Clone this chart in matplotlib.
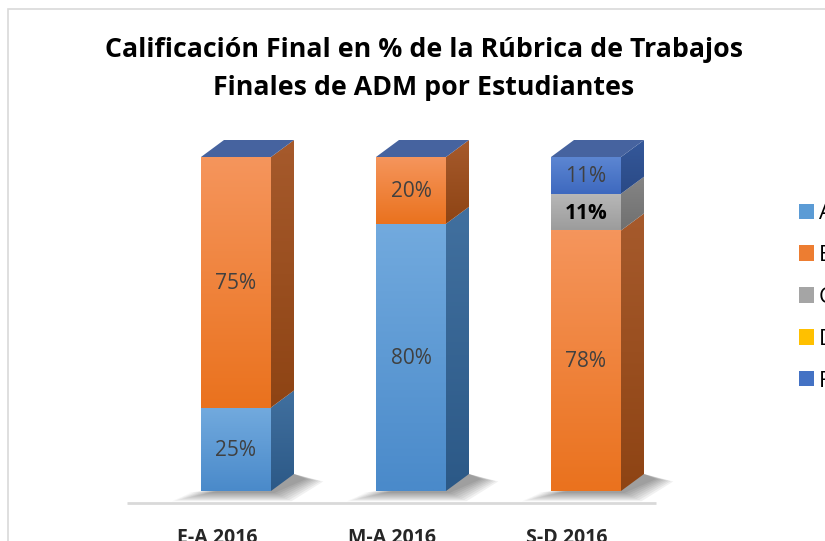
import numpy as np
import matplotlib
matplotlib.use("Agg")
import matplotlib.pyplot as plt
from matplotlib.patches import Polygon, Rectangle, Patch
from matplotlib.colors import to_rgb

plt.rcParams['font.family'] = ['Open Sans', 'DejaVu Sans']

# ---------------- data ----------------
categories = ["E-A 2016", "M-A 2016", "S-D 2016"]
series_names = ["A", "B", "C", "D", "F"]
A = [25, 80, 0]
B = [75, 20, 78]
C = [0, 0, 11]
D = [0, 0, 0]
F = [0, 0, 11]
values = [A, B, C, D, F]
title_lines = ["Calificación Final en % de la Rúbrica de Trabajos",
               "Finales de ADM por Estudiantes"]

# ---------------- styles ----------------
legend_colors = ["#5B9BD5", "#ED7D31", "#A5A5A5", "#FFC000", "#4472C4"]
front_grad = [("#72AADE", "#4A8ACA"), ("#F5955C", "#EA721E"),
              ("#B8B8B8", "#9C9C9C"), ("#FFD040", "#F0B800"),
              ("#5C86D2", "#3E69BF")]
side_grad = [("#41709F", "#2C5987"), ("#A65A2C", "#8E4414"),
             ("#858585", "#707070"), ("#B08800", "#9A7700"),
             ("#35589A", "#2A4A86")]
top_color = "#46639F"
label_color = "#404040"

W, H = 825, 541
fig = plt.figure(figsize=(W / 100, H / 100), dpi=100)

# chart border
fig.patches.append(Rectangle((8 / W, -0.1), 2, 1 - 9 / H + 0.1, transform=fig.transFigure,
                             fill=False, edgecolor="#D9D9D9", linewidth=1.2))

# axes geometry (pixels)
ax_l, ax_r, ax_t, ax_b = 127, 690, 140, 510
ax = fig.add_axes([ax_l / W, (H - ax_b) / H, (ax_r - ax_l) / W, (ax_b - ax_t) / H])
x_px0, x_scale = 236, 175.0      # pixel of category 0, pixels per unit
y_px0, y_scale = 491, 3.34       # pixel of value 0, pixels per percent
ax.set_xlim((ax_l - x_px0) / x_scale, (ax_r - x_px0) / x_scale)
ax.set_ylim((y_px0 - ax_b) / y_scale, (y_px0 - ax_t) / y_scale)
ax.axis("off")

bar_w = 70 / x_scale
dx = 23 / x_scale
dy = 17 / y_scale


def grad_poly(verts, c_top, c_bot, z):
    poly = Polygon(verts, closed=True, facecolor="none", edgecolor="none", zorder=z)
    ax.add_patch(poly)
    xs = [v[0] for v in verts]
    ys = [v[1] for v in verts]
    t = np.linspace(0, 1, 64)[:, None]
    ct, cb = np.array(to_rgb(c_top)), np.array(to_rgb(c_bot))
    col = ct[None, :] * (1 - t) + cb[None, :] * t
    img = np.repeat(col[:, None, :], 2, axis=1)
    im = ax.imshow(img, extent=(min(xs), max(xs), min(ys), max(ys)), origin="upper",
                   aspect="auto", zorder=z, interpolation="bilinear")
    im.set_clip_path(poly)


# floor line
ax.plot([ax.get_xlim()[0], (656 - x_px0) / x_scale], [-12 / y_scale] * 2,
        color="#D9D9D9", linewidth=2, zorder=1, solid_capstyle="butt")

x_pos = np.arange(len(categories))
for i, xc in enumerate(x_pos):
    x0, x1 = xc - bar_w / 2, xc + bar_w / 2
    # soft shadow
    for k in range(8):
        s = k * 0.014
        sy = k * 0.35
        ax.add_patch(Polygon([(x0 - 0.07 - s, -0.6 - sy), (x1 + 0.02 + s, -0.6 - sy),
                              (x1 + dx + 0.07 + s, dy - 1.5 - sy * 0.3), (x1 + dx, dy)],
                             closed=True, facecolor="black", alpha=0.055, edgecolor="none",
                             zorder=2))
    bottom = 0
    for s_idx, ser in enumerate(values):
        v = ser[i]
        if v <= 0:
            continue
        y0, y1 = bottom, bottom + v
        grad_poly([(x0, y0), (x1, y0), (x1, y1), (x0, y1)],
                  front_grad[s_idx][0], front_grad[s_idx][1], 4)
        grad_poly([(x1, y0), (x1 + dx, y0 + dy), (x1 + dx, y1 + dy), (x1, y1)],
                  side_grad[s_idx][0], side_grad[s_idx][1], 3)
        if series_names[s_idx] == "C":
            ax.text(xc, (y0 + y1) / 2 - 0.3, f"{v}%", ha="center", va="center",
                    fontsize=15, fontweight="bold", color="black", zorder=6)
        else:
            ax.text(xc, (y0 + y1) / 2 - 0.3, f"{v}%", ha="center", va="center",
                    fontsize=15, color=label_color, zorder=6)
        bottom = y1
    # top face
    ax.add_patch(Polygon([(x0, bottom), (x1, bottom), (x1 + dx, bottom + dy),
                          (x0 + dx, bottom + dy)], closed=True, facecolor=top_color,
                         edgecolor="none", zorder=5))

# category labels
for i, cat in enumerate(categories):
    ax.text(x_pos[i] - 19 / x_scale, (y_px0 - 538) / y_scale, cat, ha="center", va="center",
            fontsize=14, fontweight="bold", color="#262626", clip_on=False)

# title
fig.text(424 / W, 1 - 50 / H, title_lines[0], ha="center", va="center",
         fontsize=19.3, fontweight="bold", color="black")
fig.text(424 / W, 1 - 88 / H, title_lines[1], ha="center", va="center",
         fontsize=19.3, fontweight="bold", color="black")

# legend
handles = [Patch(facecolor=c, edgecolor="none") for c in legend_colors]
fig.legend(handles, series_names, loc="upper left",
           bbox_to_anchor=(799 / W, 1 - 203 / H), frameon=False,
           fontsize=16, handlelength=0.68, handleheight=0.68, handletextpad=0.2,
           labelspacing=0.94, borderaxespad=0, borderpad=0)

fig.savefig("out.png", dpi=100)
